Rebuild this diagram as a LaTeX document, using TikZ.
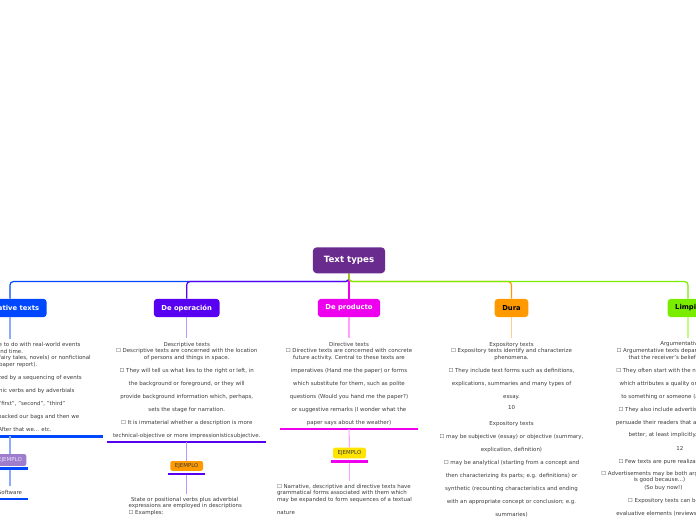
\documentclass[tikz,border=0pt]{standalone}
\usepackage{fontspec}
\setmainfont{DejaVu Sans}
\newcommand\dq{\symbol{34}}
\definecolor{rootc}{RGB}{106,43,143}
\definecolor{cA}{RGB}{0,72,255}
\definecolor{cAl}{RGB}{140,170,255}
\definecolor{cB}{RGB}{88,0,240}
\definecolor{cBl}{RGB}{185,150,255}
\definecolor{cC}{RGB}{238,0,238}
\definecolor{cCl}{RGB}{255,160,255}
\definecolor{cD}{RGB}{255,153,0}
\definecolor{cDl}{RGB}{255,205,140}
\definecolor{cE}{RGB}{122,236,0}
\definecolor{cEl}{RGB}{195,250,130}
\definecolor{textc}{RGB}{60,60,60}
\definecolor{lav}{RGB}{158,126,204}
\definecolor{lavtext}{RGB}{235,222,255}
\definecolor{yel}{RGB}{255,228,0}
\begin{document}
\begin{tikzpicture}[x=0.75pt,y=-0.75pt,
  rootbox/.style={fill=rootc,text=white,font=\fontsize{6.5}{7.8}\selectfont\bfseries,
    rounded corners=3pt,minimum width=54.3pt,minimum height=19.5pt,inner sep=0pt},
  branch/.style={rounded corners=2.5pt,font=\fontsize{5.1}{6.1}\selectfont\bfseries,
    minimum height=13.7pt,inner xsep=5.7pt,inner ysep=0pt},
  body/.style={font=\fontsize{4.1}{4.875}\selectfont,text=textc,align=center,
    inner xsep=4pt,inner ysep=2.6pt},
  lline/.style={font=\fontsize{4.1}{4.875}\selectfont,text=textc,inner sep=0pt,anchor=base west},
  ejbox/.style={rounded corners=1.5pt,font=\fontsize{4.1}{4.9}\selectfont,
    minimum width=24.5pt,inner sep=0pt},
  link/.style={line width=0.9pt,rounded corners=2.5pt},
  stem/.style={line width=0.8pt},
  ul/.style={line width=1.9pt}]
\useasboundingbox (0,0) rectangle (696,520);
\fill[white] (0,0) rectangle (696,520);
\clip (0,0) rectangle (696,520);

% root and branches
\node[rootbox] (root) at (349,260.3) {Text types};
\node[branch,fill=cA,text=white] (narr) at (10,308) {Narrative texts};
\node[branch,fill=cB,text=white] (oper) at (186.7,308) {De operación};
\node[branch,fill=cC,text=white] (prod) at (349,308) {De producto};
\node[branch,fill=cD,text=black] (dura) at (511.5,308) {Dura};
\node[branch,fill=cE,text=black] (limp) at (688,308) {Limpia};

\draw[link,cA] (root.south) -- ++(0,8) -| (narr.north);
\draw[link,cB] (root.south) -- ++(0,8) -| (oper.north);
\draw[link,cC] (root.south) -- (prod.north);
\draw[link,cD] (root.south) -- ++(0,8) -| (dura.north);
\draw[link,cE] (root.south) -- ++(0,8) -| (limp.north);

% narrative
\node[body,anchor=north,minimum width=139pt] (narrtext) at (10,339) {%
☐ Narrative texts have to do with real-world events\\
and time.\\
☐ They may be fictional (fairy tales, novels) or nonfictional\\
(newspaper report).\\[4.875pt]
☐ They are characterized by a sequencing of events\\[4.875pt]
expressed by dynamic verbs and by adverbials\\[4.875pt]
such as \dq then\dq, \dq first\dq, \dq second\dq, \dq third\dq\\[4.875pt]
☐ Example: First we packed our bags and then we\\[4.875pt]
left home. After that we... etc.\vphantom{g}};
\draw[stem,cAl] (narr.south) -- (narrtext.north);
\draw[ul,cA] (narrtext.south west) -- (narrtext.south east);
\node[ejbox,fill=lav,text=lavtext,minimum height=8.8pt] (narrej) at (10,460) {EJEMPLO};
\draw[ul,cA] ([xshift=-1.3pt,yshift=-1.6pt]narrej.south west) -- ([xshift=1.3pt,yshift=-1.6pt]narrej.south east);
\draw[stem,cAl] (narrtext.south) -- (narrej.north);
\node[body,anchor=north] (soft) at (10,486.3) {Software\vphantom{g}};
\draw[stem,cAl] ([yshift=-3pt]narrej.south) -- (soft.north);
\draw[ul,cA] (soft.south west) -- (soft.south east);

% de operacion
\node[body,anchor=north] (opertext) at (186.7,338.3) {%
Descriptive texts\\
☐ Descriptive texts are concerned with the location\\
of persons and things in space.\\[4.875pt]
☐ They will tell us what lies to the right or left, in\\[4.875pt]
the background or foreground, or they will\\[4.875pt]
provide background information which, perhaps,\\[4.875pt]
sets the stage for narration.\\[4.875pt]
☐ It is immaterial whether a description is more\\[4.875pt]
technical-objective or more impressionisticsubjective.};
\draw[stem,cBl] (oper.south) -- (opertext.north);
\draw[ul,cB] (opertext.south west) -- (opertext.south east);
\node[ejbox,fill=cD,text=textc,minimum height=7.3pt] (operej) at (186.7,465.9) {EJEMPLO};
\draw[stem,cBl] (opertext.south) -- (operej.north);
\draw[ul,cB] ([xshift=-1.3pt,yshift=-2.1pt]operej.south west) -- ([xshift=1.3pt,yshift=-2.1pt]operej.south east);
\node[body,align=left,anchor=north west] (operex) at (123,493.6) {%
\hspace*{1.8pt}State or positional verbs plus adverbial\\
expressions are employed in descriptions\\
☐ Examples:};
\draw[stem,cBl] ([yshift=-3pt]operej.south) -- (operej.south |- operex.north);

% de producto
\node[body,anchor=north] (prodtext) at (349,338.3) {%
Directive texts\\
☐ Directive texts are concerned with concrete\\
future activity. Central to these texts are\\[4.875pt]
imperatives (Hand me the paper) or forms\\[4.875pt]
which substitute for them, such as polite\\[4.875pt]
questions (Would you hand me the paper?)\\[4.875pt]
or suggestive remarks (I wonder what the\\[4.875pt]
paper says about the weather)};
\draw[stem,cCl] (prod.south) -- (prodtext.north);
\draw[ul,cC] (prodtext.south west) -- (prodtext.south east);
\node[ejbox,fill=yel,text=textc,minimum height=8pt] (prodej) at (349.5,453) {EJEMPLO};
\draw[stem,cCl] (prodtext.south) -- (prodej.north);
\draw[ul,cC] ([xshift=-1.3pt,yshift=-2.2pt]prodej.south west) -- ([xshift=1.3pt,yshift=-2.2pt]prodej.south east);
\node[body,align=left,anchor=north west] (prodex) at (271.4,480.6) {%
☐ Narrative, descriptive and directive texts have\\
grammatical forms associated with them which\\
may be expanded to form sequences of a textual\\[4.875pt]
nature};
\draw[stem,cCl] ([yshift=-3pt]prodej.south) -- (prodej.south |- prodex.north);

% dura
\node[body,anchor=north] (duratext) at (511.5,338.3) {%
Expository texts\\
☐ Expository texts identify and characterize\\
phenomena.\\[4.875pt]
☐ They include text forms such as definitions,\\[4.875pt]
explications, summaries and many types of\\[4.875pt]
essay.\\[3.9pt]
10\\[7.1pt]
Expository texts\\[4.875pt]
☐ may be subjective (essay) or objective (summary,\\[4.875pt]
explication, definition)\\[4.875pt]
☐ may be analytical (starting from a concept and\\[4.875pt]
then characterizing its parts; e.g. definitions) or\\[4.875pt]
synthetic (recounting characteristics and ending\\[4.875pt]
with an appropriate concept or conclusion; e.g.\\[4.875pt]
summaries)};
\draw[stem,cDl] (dura.south) -- (duratext.north);

% limpia
\node[lline,inner ysep=2.6pt] (lim1) at (660,345.7) {Argumentative texts};
\draw[stem,cEl] (limp.south) -- (limp.south |- lim1.north);
\node[lline] (lim2) at (616.3,352.5) {☐ Argumentative texts depart from the assumption};
\node[lline] (lim3) at (628.3,359) {that the receiver's beliefs must be changed.};
\node[lline] (lim4) at (616,372.3) {☐ They often start with the negation of a thesis};
\node[lline] (lim5) at (619.3,385) {which attributes a quality or an action};
\node[lline] (lim6) at (621,398) {to something or someone (a thing, a person)};
\node[lline] (lim7) at (618.3,411.3) {☐ They also include advertisements which};
\node[lline] (lim8) at (615.7,424.3) {persuade their readers that a product is};
\node[lline] (lim9) at (628.3,436.7) {better, at least implicitly.};
\node[lline] (lim10) at (676,450) {12};
\node[lline] (lim11) at (618.3,463.3) {☐ Few texts are pure realizations of one type.};
\node[lline] (lim12) at (601,475.5) {☐ Advertisements may be both argumentative (X};
\node[lline] (lim13) at (633.3,481) {is good because...)};
\node[lline] (lim14) at (644,489.3) {(So buy now!)};
\node[lline] (lim15) at (627.7,502) {☐ Expository texts can be argumentative};
\node[lline] (lim16) at (616,515) {evaluative elements (reviews, comments)};
\end{tikzpicture}
\end{document}
